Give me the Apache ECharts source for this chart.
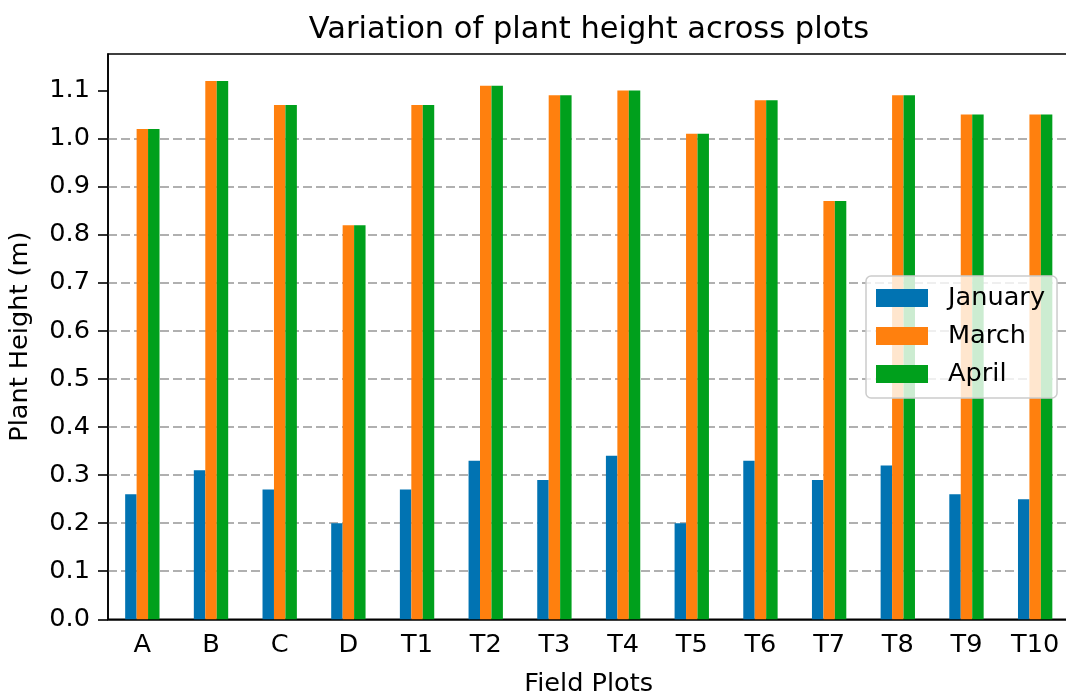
<!DOCTYPE html>
<html>
<head>
<meta charset="utf-8">
<script src="https://cdn.jsdelivr.net/npm/echarts@6/dist/echarts.min.js"></script>
<style>
  html, body { margin: 0; padding: 0; background: #fff; }
  #chart { width: 1066px; height: 696px; }
</style>
</head>
<body>
<div id="chart"></div>
<script>
// Field plots on the x axis
const plots = ['A', 'B', 'C', 'D', 'T1', 'T2', 'T3', 'T4', 'T5', 'T6', 'T7', 'T8', 'T9', 'T10'];

// Plant height (m) per month
const january = [0.26, 0.31, 0.27, 0.20, 0.27, 0.33, 0.29, 0.34, 0.20, 0.33, 0.29, 0.32, 0.26, 0.25];
const march   = [1.02, 1.12, 1.07, 0.82, 1.07, 1.11, 1.09, 1.10, 1.01, 1.08, 0.87, 1.09, 1.05, 1.05];
const april   = [1.02, 1.12, 1.07, 0.82, 1.07, 1.11, 1.09, 1.10, 1.01, 1.08, 0.87, 1.09, 1.05, 1.05];

// Y tick values
const yTicks = [0.0, 0.1, 0.2, 0.3, 0.4, 0.5, 0.6, 0.7, 0.8, 0.9, 1.0, 1.1];

const FONT = 'DejaVu Sans';
const colors = ['#0173b2', '#ff800e', '#00a01c'];

const chart = echarts.init(document.getElementById('chart'), null, { renderer: 'canvas' });

const barSeries = (name, data, color) => ({
  name: name,
  type: 'bar',
  data: data,
  barWidth: 11.45,
  barGap: '0%',
  itemStyle: { color: color },
  emphasis: { disabled: true }
});

chart.setOption({
  animation: false,
  backgroundColor: '#fff',
  graphic: [{
    type: 'text',
    x: 589,
    y: 15,
    style: {
      text: 'Variation of plant height across plots',
      font: '30.5px "DejaVu Sans"',
      fill: '#000',
      textAlign: 'center',
      textVerticalAlign: 'top'
    }
  }],
  grid: {
    left: 108,
    top: 54,
    right: -3.5,
    bottom: 76.7,
    containLabel: false,
    outerBoundsMode: 'none',
    show: true,
    borderColor: '#000',
    borderWidth: 1.6,
    backgroundColor: 'transparent'
  },
  legend: {
    orient: 'vertical',
    left: 866,
    top: 276,
    padding: [9, 12, 11, 10],
    itemWidth: 52,
    itemHeight: 18,
    itemGap: 12,
    icon: 'rect',
    backgroundColor: 'rgba(255,255,255,0.8)',
    borderColor: '#cccccc',
    borderWidth: 1.5,
    borderRadius: 5,
    textStyle: { fontFamily: FONT, fontSize: 25.6, lineHeight: 26, color: '#000', padding: [0, 0, 0, 15] },
    data: ['January', 'March', 'April']
  },
  xAxis: {
    type: 'category',
    data: plots,
    boundaryGap: true,
    name: 'Field Plots',
    nameLocation: 'middle',
    nameGap: 52,
    nameTextStyle: { fontFamily: FONT, fontSize: 25.6, color: '#000' },
    axisLine: { lineStyle: { color: '#000', width: 1.6 } },
    axisTick: { alignWithLabel: true, length: 10, lineStyle: { color: '#000', width: 1.6 } },
    axisLabel: { fontFamily: FONT, fontSize: 25.6, color: '#000', margin: 13 },
    splitLine: { show: false }
  },
  yAxis: {
    type: 'value',
    min: 0,
    max: 1.176,
    interval: 0.1,
    name: 'Plant Height (m)',
    nameLocation: 'middle',
    nameGap: 75,
    nameTextStyle: { fontFamily: FONT, fontSize: 25.6, color: '#000' },
    axisLine: { show: true, lineStyle: { color: '#000', width: 1.6 } },
    axisTick: {
      show: true, length: 10, customValues: yTicks,
      lineStyle: { color: '#000', width: 1.6 }
    },
    axisLabel: {
      fontFamily: FONT, fontSize: 25.6, color: '#000', margin: 18,
      customValues: yTicks,
      formatter: v => v.toFixed(1)
    },
    splitLine: {
      show: true,
      showMinLine: false,
      showMaxLine: false,
      lineStyle: { color: '#b0b0b0', width: 2, type: [9, 4] }
    }
  },
  series: [
    barSeries('January', january, colors[0]),
    barSeries('March', march, colors[1]),
    barSeries('April', april, colors[2])
  ]
});
</script>
</body>
</html>
